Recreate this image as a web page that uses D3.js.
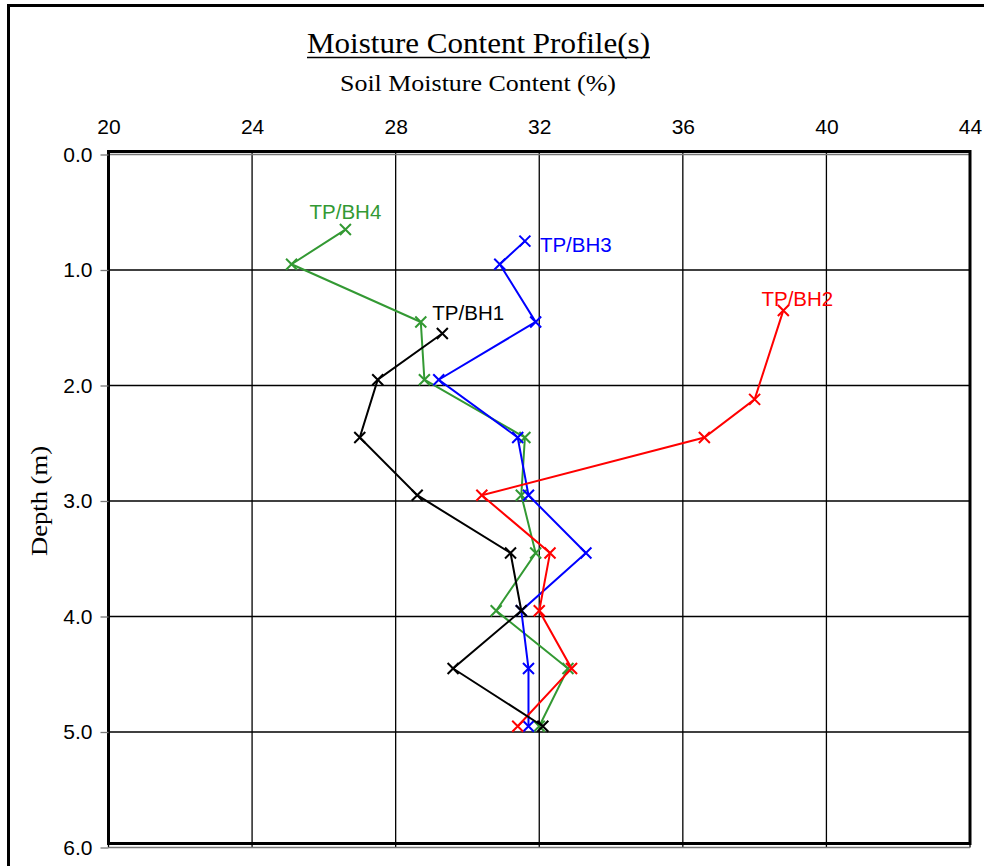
<!DOCTYPE html>
<html>
<head>
<meta charset="utf-8">
<script src="https://cdn.jsdelivr.net/npm/d3@7/dist/d3.min.js"></script>
<style>
  html, body { margin: 0; padding: 0; background: #fff; }
  svg { display: block; }
</style>
</head>
<body>
<script>
// Moisture content (%) against depth (m) for four trial pits / boreholes
const seriesNames = ["TP/BH1", "TP/BH2", "TP/BH3", "TP/BH4"];
const seriesColors = ["#000000", "#ff0000", "#0000ff", "#339933"];

const bh1Depth = [1.55, 1.95, 2.45, 2.95, 3.45, 3.95, 4.45, 4.95];
const bh1Moisture = [29.3, 27.5, 27.0, 28.6, 31.2, 31.5, 29.6, 32.1];

const bh2Depth = [1.35, 2.12, 2.45, 2.95, 3.45, 3.95, 4.45, 4.95];
const bh2Moisture = [38.8, 38.0, 36.6, 30.4, 32.3, 32.0, 32.9, 31.4];

const bh3Depth = [0.75, 0.95, 1.45, 1.95, 2.45, 2.95, 3.45, 3.95, 4.45, 4.95];
const bh3Moisture = [31.6, 30.9, 31.9, 29.2, 31.4, 31.7, 33.3, 31.5, 31.7, 31.7];

const bh4Depth = [0.65, 0.95, 1.45, 1.95, 2.45, 2.95, 3.45, 3.95, 4.45, 4.95];
const bh4Moisture = [26.6, 25.1, 28.7, 28.8, 31.6, 31.5, 31.9, 30.8, 32.8, 32.0];

const xTicks = [20, 24, 28, 32, 36, 40, 44];
const yTicks = [0, 1, 2, 3, 4, 5, 6];

const W = 984, H = 866;
const svg = d3.select("body").append("svg").attr("width", W).attr("height", H);
svg.append("rect").attr("width", W).attr("height", H).attr("fill", "#fff");

// outer chart frame (runs past the right and bottom edges)
svg.append("rect").attr("x", 8.5).attr("y", 5.5).attr("width", 1000).attr("height", 1000)
  .attr("fill", "none").attr("stroke", "#000").attr("stroke-width", 3);

const x = d3.scaleLinear().domain([20, 44]).range([108.5, 970]);
const y = d3.scaleLinear().domain([0, 6]).range([154.5, 847.5]);

const sans = "Liberation Sans, Arial, sans-serif";
const serif = "Liberation Serif, Times New Roman, serif";

// gridlines
const grid = svg.append("g");
grid.selectAll("line.v").data(xTicks).join("line")
  .attr("x1", d => x(d)).attr("x2", d => x(d))
  .attr("y1", y(0) - 3).attr("y2", y(6))
  .attr("stroke", "#000").attr("stroke-width", 1.3);
grid.selectAll("line.h").data(yTicks).join("line")
  .attr("x1", x(20)).attr("x2", x(44))
  .attr("y1", d => y(d)).attr("y2", d => y(d))
  .attr("stroke", d => (d === 0 || d === 6) ? "#777" : "#000")
  .attr("stroke-width", 1.4);

// plot-area border
svg.append("rect").attr("x", x(20)).attr("y", y(0) - 3)
  .attr("width", x(44) - x(20)).attr("height", y(6) - y(0) - 1)
  .attr("fill", "none").attr("stroke", "#000").attr("stroke-width", 3);

// x axis along the top
const xAxis = d3.axisTop(x).tickValues(xTicks).tickSize(0).tickPadding(0).tickFormat(d3.format("d"));
const gx = svg.append("g").attr("transform", `translate(0, 134)`).call(xAxis);
gx.select(".domain").remove();
gx.selectAll("text").attr("font-family", sans)
  .attr("font-size", 21).attr("fill", "#000").attr("dy", 0);

// y axis on the left
const yAxis = d3.axisLeft(y).tickValues(yTicks).tickSize(8).tickPadding(8).tickFormat(d3.format(".1f"));
const gy = svg.append("g").attr("transform", `translate(${x(20)}, 0)`).call(yAxis);
gy.select(".domain").remove();
gy.selectAll(".tick line").attr("stroke", "#777").attr("stroke-width", 1.3);
gy.selectAll("text").attr("font-family", sans)
  .attr("font-size", 21).attr("fill", "#000");

// titles
const title = svg.append("text").attr("x", 478.5).attr("y", 53).attr("text-anchor", "middle")
  .attr("font-family", serif).attr("font-size", 29)
  .attr("textLength", 343).attr("lengthAdjust", "spacingAndGlyphs")
  .text("Moisture Content Profile(s)");
svg.append("line").attr("x1", 478.5 - 171.5).attr("x2", 478.5 + 171.5).attr("y1", 57.5).attr("y2", 57.5)
  .attr("stroke", "#000").attr("stroke-width", 1.5);

svg.append("text").attr("x", 478).attr("y", 91).attr("text-anchor", "middle")
  .attr("font-family", serif).attr("font-size", 24)
  .attr("textLength", 276).attr("lengthAdjust", "spacingAndGlyphs")
  .text("Soil Moisture Content (%)");

svg.append("text").attr("transform", "translate(47, 501) rotate(-90)").attr("text-anchor", "middle")
  .attr("font-family", serif).attr("font-size", 24)
  .attr("textLength", 110).attr("lengthAdjust", "spacingAndGlyphs")
  .text("Depth (m)");

// profiles
const series = [
  { name: seriesNames[0], color: seriesColors[0], pts: bh1Depth.map((d, i) => [bh1Moisture[i], d]) },
  { name: seriesNames[1], color: seriesColors[1], pts: bh2Depth.map((d, i) => [bh2Moisture[i], d]) },
  { name: seriesNames[2], color: seriesColors[2], pts: bh3Depth.map((d, i) => [bh3Moisture[i], d]) },
  { name: seriesNames[3], color: seriesColors[3], pts: bh4Depth.map((d, i) => [bh4Moisture[i], d]) }
];
// draw order: green, blue, red, black on top
const order = [3, 2, 1, 0];
const line = d3.line().x(d => x(d[0])).y(d => y(d[1]));
const m = 5.5;
order.forEach(k => {
  const s = series[k];
  const g = svg.append("g");
  g.append("path").attr("d", line(s.pts)).attr("fill", "none")
    .attr("stroke", s.color).attr("stroke-width", 2);
  g.selectAll("path.mk").data(s.pts).join("path")
    .attr("d", d => {
      const cx = x(d[0]), cy = y(d[1]);
      return `M${cx - m},${cy - m}L${cx + m},${cy + m}M${cx - m},${cy + m}L${cx + m},${cy - m}`;
    })
    .attr("stroke", s.color).attr("stroke-width", 2).attr("fill", "none");
});

// series labels placed beside the shallowest point of each profile
const labelPos = [
  { k: 0, dx: -10, dy: -14, anchor: "start" },
  { k: 1, dx: 14, dy: -4, anchor: "middle" },
  { k: 2, dx: 15, dy: 11, anchor: "start" },
  { k: 3, dx: 0, dy: -11, anchor: "middle" }
];
labelPos.forEach(p => {
  const s = series[p.k];
  svg.append("text").attr("x", x(s.pts[0][0]) + p.dx).attr("y", y(s.pts[0][1]) + p.dy)
    .attr("text-anchor", p.anchor)
    .attr("font-family", sans).attr("font-size", 20.5)
    .attr("fill", s.color).text(s.name);
});
</script>
</body>
</html>
